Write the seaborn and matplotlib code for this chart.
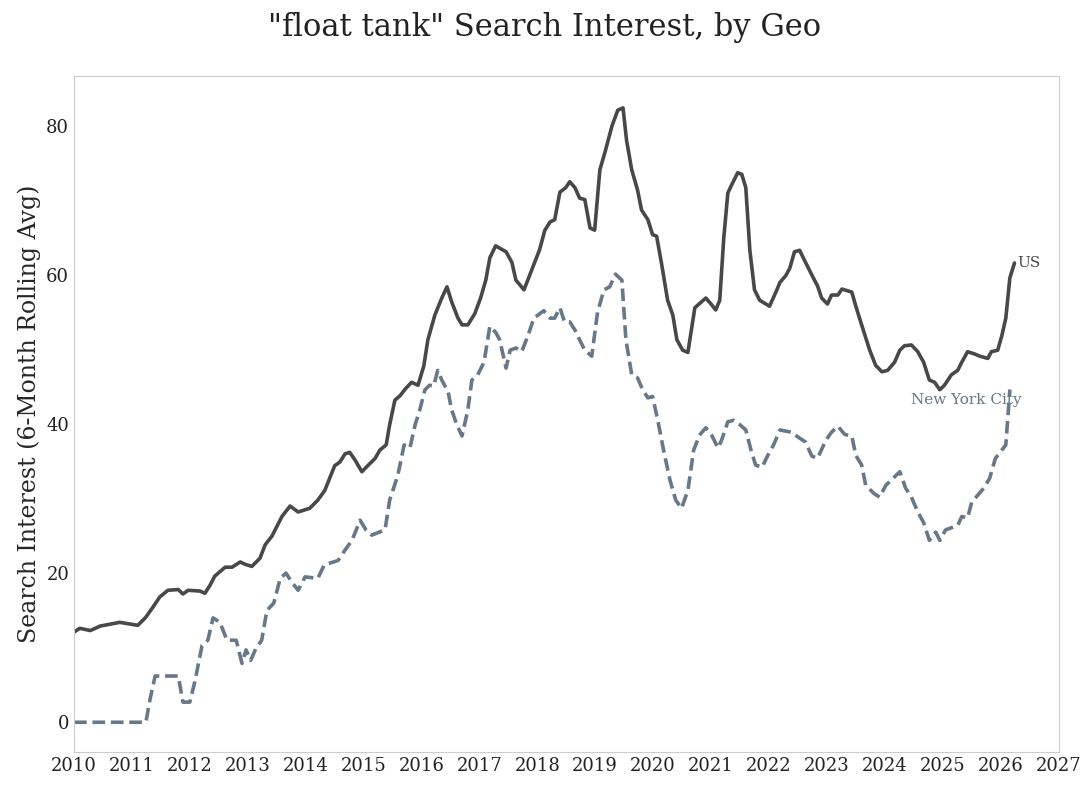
import matplotlib
matplotlib.use("Agg")
import matplotlib.pyplot as plt
import seaborn as sns
import pandas as pd

us_t = [0.00,0.10,0.28,0.45,0.79,1.10,1.23,1.35,1.48,1.62,1.80,1.88,1.97,2.17,2.26,2.35,2.43,2.61,2.73,2.87,2.95,3.07,3.21,3.30,3.42,3.59,3.73,3.87,4.07,4.21,4.33,4.50,4.59,4.68,4.76,4.85,4.97,5.07,5.20,5.28,5.39,5.45,5.54,5.63,5.73,5.83,5.94,6.04,6.11,6.23,6.35,6.44,6.52,6.63,6.70,6.80,6.92,7.02,7.11,7.18,7.28,7.46,7.56,7.63,7.77,7.87,8.04,8.13,8.22,8.30,8.39,8.49,8.56,8.65,8.73,8.82,8.91,8.99,9.08,9.17,9.29,9.39,9.48,9.54,9.63,9.73,9.80,9.91,9.99,10.06,10.15,10.25,10.34,10.41,10.51,10.60,10.72,10.91,11.01,11.08,11.15,11.22,11.29,11.37,11.46,11.53,11.60,11.67,11.75,11.84,12.01,12.12,12.19,12.29,12.36,12.44,12.53,12.63,12.74,12.84,12.91,13.01,13.08,13.19,13.26,13.43,13.50,13.60,13.74,13.84,13.95,14.05,14.17,14.26,14.34,14.46,14.57,14.67,14.77,14.86,14.95,15.03,15.15,15.26,15.33,15.43,15.55,15.64,15.78,15.84,15.95,16.02,16.09,16.16,16.24]
us_v = [12.1,12.6,12.3,12.9,13.4,13.0,14.0,15.3,16.8,17.7,17.8,17.2,17.7,17.6,17.3,18.4,19.6,20.8,20.8,21.5,21.2,20.9,22.0,23.8,25.0,27.6,29.0,28.2,28.7,29.8,31.1,34.4,34.9,36.0,36.2,35.2,33.6,34.4,35.4,36.5,37.2,39.9,43.2,43.8,44.8,45.6,45.2,47.8,51.3,54.6,56.9,58.4,56.4,54.2,53.3,53.3,54.8,56.9,59.3,62.3,63.9,63.1,61.7,59.3,58.0,60.0,63.4,66.0,67.1,67.4,71.1,71.7,72.5,71.7,70.3,70.1,66.3,66.0,74.1,76.5,80.0,82.1,82.4,78.1,74.1,71.4,68.7,67.4,65.4,65.2,61.3,56.6,54.6,51.3,49.9,49.6,55.6,56.9,56.0,55.3,56.6,65.0,71.0,72.3,73.7,73.5,71.7,63.3,58.0,56.6,55.8,57.7,59.0,59.9,60.9,63.1,63.3,61.7,60.0,58.5,56.9,56.1,57.3,57.3,58.1,57.7,55.8,53.3,49.9,47.9,47.0,47.2,48.3,49.9,50.5,50.6,49.7,48.3,45.9,45.6,44.6,45.2,46.6,47.2,48.3,49.7,49.4,49.1,48.8,49.7,49.9,51.8,54.2,59.6,61.6]

nyc_t = [0.00,1.14,1.24,1.31,1.40,1.80,1.88,2.00,2.09,2.21,2.31,2.40,2.52,2.64,2.80,2.90,2.97,3.05,3.14,3.24,3.33,3.45,3.56,3.66,3.76,3.87,3.99,4.21,4.32,4.56,4.68,4.80,4.94,5.04,5.14,5.37,5.45,5.59,5.70,5.80,5.89,5.97,6.06,6.14,6.21,6.28,6.35,6.46,6.52,6.61,6.70,6.80,6.87,6.97,7.08,7.18,7.28,7.35,7.46,7.53,7.63,7.73,7.84,7.94,8.11,8.22,8.30,8.39,8.47,8.56,8.65,8.73,8.82,8.94,9.04,9.15,9.25,9.35,9.46,9.53,9.63,9.73,9.82,9.91,9.99,10.08,10.18,10.29,10.39,10.49,10.60,10.70,10.80,10.91,11.01,11.12,11.18,11.29,11.39,11.50,11.60,11.70,11.77,11.88,11.98,12.08,12.19,12.39,12.53,12.63,12.74,12.84,12.98,13.08,13.19,13.31,13.43,13.50,13.60,13.67,13.81,13.91,14.02,14.14,14.26,14.36,14.46,14.57,14.67,14.77,14.88,14.95,15.05,15.26,15.33,15.43,15.50,15.71,15.81,15.91,16.09,16.16]
nyc_v = [0,0,0,3.0,6.2,6.2,2.7,2.7,5.6,10.3,11.0,14.0,13.4,11.0,11.0,7.9,9.7,8.3,9.9,11.0,15.0,16.0,19.3,20.0,18.8,17.7,19.5,19.3,21.1,21.7,23.1,24.4,27.1,25.8,25.1,25.8,29.8,33.1,37.2,36.8,39.9,41.9,44.6,45.2,45.1,47.2,45.9,44.3,41.9,39.9,38.4,41.9,45.9,46.6,48.3,53.1,52.3,51.3,47.5,49.9,50.2,49.7,51.9,54.2,55.2,54.2,54.2,55.6,53.7,53.7,52.6,51.3,49.9,49.1,55.0,58.0,58.4,60.1,59.3,51.3,46.6,46.2,44.6,43.5,43.7,40.5,36.5,32.5,29.8,28.7,31.1,36.5,38.5,39.5,38.5,36.8,37.8,40.3,40.5,39.9,39.2,36.2,34.5,34.2,35.8,37.2,39.2,38.9,38.1,37.6,35.7,35.4,37.8,38.9,39.7,38.6,38.4,35.8,34.5,31.8,30.7,30.2,31.8,32.7,33.6,31.4,30.2,28.2,26.8,24.4,25.5,24.4,25.8,26.4,27.6,27.4,29.5,31.4,32.7,35.4,37.2,44.6]

us = pd.DataFrame({"year": [2010 + t for t in us_t], "value": us_v})
nyc = pd.DataFrame({"year": [2010 + t for t in nyc_t], "value": nyc_v})

sns.set_theme(style="white")
plt.rcParams['font.family'] = ['DejaVu Serif']

fig = plt.figure(figsize=(10.89, 7.9), dpi=100)
ax = fig.add_axes([0.068, 0.048, 0.904, 0.856])
US_C = "#484848"
NYC_C = "#677888"
sns.lineplot(data=us, x="year", y="value", ax=ax, color=US_C, linewidth=2.6)
sns.lineplot(data=nyc, x="year", y="value", ax=ax, color=NYC_C, linewidth=2.6, linestyle=(0, (3.5, 1.6)))

ax.set_xlim(2010, 2027)
ax.set_ylim(-4, 86.7)
ax.set_xticks(range(2010, 2028))
ax.set_xticklabels([str(y) for y in range(2010, 2028)], fontsize=13)
ax.set_yticks([0, 20, 40, 60, 80])
ax.set_yticklabels(["0", "20", "40", "60", "80"], fontsize=13)
ax.set_xlabel("")
ax.set_ylabel("Search Interest (6-Month Rolling Avg)", fontsize=17)
ax.grid(False)
for s in ax.spines.values():
    s.set_color("#cccccc")
    s.set_linewidth(0.8)
ax.tick_params(axis="both", length=0, colors="#222222")

ax.annotate("US", xy=(2010 + us_t[-1], us_v[-1]), xytext=(2010 + us_t[-1] + 0.05, us_v[-1]),
            fontsize=11, color=US_C, va="center", ha="left")
ax.annotate("New York City", xy=(2010 + nyc_t[-1], nyc_v[-1]), xytext=(2024.45, 43.2),
            fontsize=11, color=NYC_C, va="center", ha="left",
            arrowprops=dict(arrowstyle="-", color=NYC_C, lw=0.7))

fig.suptitle('"float tank" Search Interest, by Geo', fontsize=22, y=0.985, color="#222222")
fig.savefig("out.png", dpi=100)
